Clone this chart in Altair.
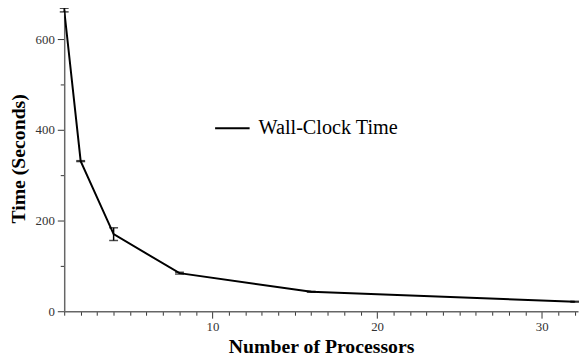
import altair as alt
import pandas as pd

processors = [1, 2, 4, 8, 16, 32]
wall_time = [664, 331, 170, 84, 43, 21]
err_low = [660, 330, 156, 82, 42, 20]
err_high = [668, 332, 184, 86, 44, 22]
series_name = ["Wall-Clock Time"] * 6

x_ticks = list(range(1, 33))
y_ticks = [0, 100, 200, 300, 400, 500, 600]

df = pd.DataFrame({
    "procs": processors,
    "time": wall_time,
    "lo": err_low,
    "hi": err_high,
    "series": series_name,
})

FONT = "Liberation Serif"

x_axis = alt.Axis(
    values=x_ticks, tickCount=40, format="d",
    labelExpr="datum.value % 10 == 0 ? datum.label : ''",
    tickSize={"condition": {"test": "datum.value % 10 == 0", "value": 7}, "value": 4},
    tickColor="#333333",
    grid=False, domainColor="#666666", domainWidth=1.5,
    labelColor="#333333", labelFont=FONT, labelFontSize=13, labelPadding=3,
    labelOverlap=False,
    title="Number of Processors", titleFont=FONT, titleFontSize=20,
    titleFontWeight="bold", titleColor="#000000", titlePadding=3,
)
y_axis = alt.Axis(
    values=y_ticks, tickCount=40, format="d",
    labelExpr="datum.value % 200 == 0 ? datum.label : ''",
    tickSize={"condition": {"test": "datum.value % 200 == 0", "value": 7}, "value": 4},
    grid=False, domainColor="#666666", domainWidth=1.5, tickColor="#333333",
    labelColor="#333333", labelFont=FONT, labelFontSize=13, labelPadding=3,
    labelOverlap=False,
    title="Time (Seconds)", titleFont=FONT, titleFontSize=20,
    titleFontWeight="bold", titleColor="#000000", titlePadding=7,
)

xs = alt.Scale(domain=[1, 32.2], nice=False, zero=False)
ys = alt.Scale(domain=[0, 674], nice=False)

base = alt.Chart(df)

line = base.mark_line(strokeWidth=2, clip=True).encode(
    x=alt.X("procs:Q", scale=xs, axis=x_axis),
    y=alt.Y("time:Q", scale=ys, axis=y_axis),
    color=alt.Color(
        "series:N",
        scale=alt.Scale(range=["#000000"]),
        legend=alt.Legend(
            orient="none", legendX=152, legendY=106, title=None,
            symbolType="stroke", symbolSize=1225, symbolStrokeWidth=2,
            labelFont=FONT, labelFontSize=20.5, labelColor="#000000", labelOffset=8,
            labelLimit=300,
        ),
    ),
)

bars = base.mark_rule(strokeWidth=1.5, color="black").encode(
    x="procs:Q", y="lo:Q", y2="hi:Q",
)
cap_lo = base.mark_tick(orient="horizontal", size=9, thickness=1.5, color="black").encode(
    x="procs:Q", y="lo:Q",
)
cap_hi = base.mark_tick(orient="horizontal", size=9, thickness=1.5, color="black").encode(
    x="procs:Q", y="hi:Q",
)

chart = alt.layer(line, bars, cap_lo, cap_hi).properties(
    width=521,
    height=310,
    autosize=alt.AutoSizeParams(type="none"),
    padding={"left": 57, "top": -5, "right": 1, "bottom": 52},
).configure_view(stroke=None)

chart.save("out.html", embed_options={"renderer": "svg", "actions": False})
